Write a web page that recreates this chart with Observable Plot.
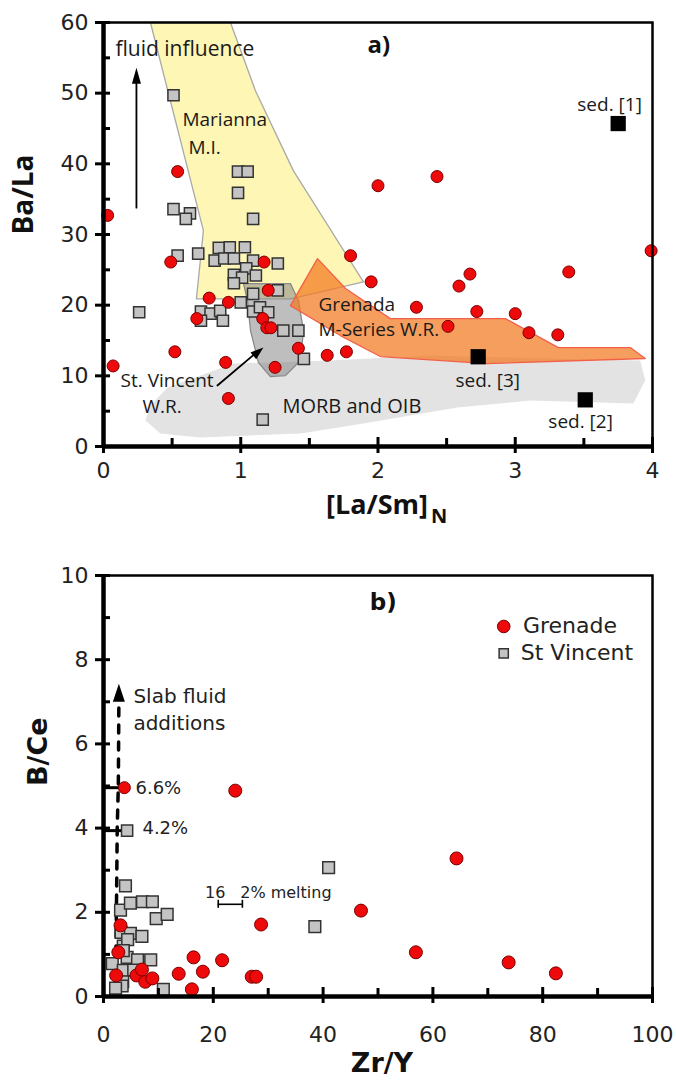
<!DOCTYPE html>
<html><head><meta charset="utf-8">
<script src="https://cdn.jsdelivr.net/npm/d3@7"></script>
<script src="https://cdn.jsdelivr.net/npm/@observablehq/plot@0.6"></script>
<style>body{margin:0;background:#fff} #chart{width:676px} #chart svg{display:block}</style>
</head><body><div id="chart"></div>
<script>
// ---------- Panel a) data : [La/Sm]N vs Ba/La ----------
const grenadaA = [
  [0.03,32.7],[0.54,38.9],[0.49,26.1],[1.17,26.1],[1.20,22.1],[0.77,21.0],[0.91,20.4],
  [0.68,18.1],[1.16,18.1],[1.19,16.8],[1.22,16.8],[1.42,13.9],[1.63,12.9],[0.07,11.4],
  [0.52,13.4],[0.89,11.9],[1.25,11.2],[0.91,6.8],[1.80,27.0],[1.95,23.3],[2.28,19.7],
  [2.51,17.0],[2.59,22.7],[2.67,24.4],[2.72,19.1],[3.00,18.8],[3.10,16.1],[3.31,15.8],
  [3.39,24.7],[3.99,27.7],[1.77,13.4],[2.00,36.9],[2.43,38.2]
];
const stVincentA = [
  [0.51,49.7],[0.98,38.9],[1.05,38.9],[0.98,35.9],[0.51,33.6],[0.63,33.0],[0.60,32.2],
  [1.09,32.2],[0.54,27.0],[0.69,27.3],[0.84,28.1],[0.92,28.2],[1.03,28.2],[0.81,26.3],
  [0.88,26.6],[0.95,26.6],[1.09,26.3],[1.27,25.9],[1.04,25.2],[0.95,24.3],[1.01,23.9],
  [1.11,24.2],[0.95,23.1],[1.27,22.1],[1.09,21.6],[1.00,20.4],[0.71,19.1],[0.78,18.8],
  [0.85,19.2],[0.71,17.8],[0.87,17.8],[0.26,19.0],[1.09,19.1],[1.14,19.7],[1.20,19.0],
  [1.31,16.4],[1.42,16.4],[1.46,12.4],[1.16,3.8]
];
const sedimentsA = [[3.75,45.7],[3.51,6.6],[2.73,12.7]];
const sedimentLabels = ["sed. [1]","sed. [2]","sed. [3]"];

// fields (polygons)
const morbField = [[0.306,3.68],[0.342,5.8],[0.466,8.35],[0.947,11.74],[1.653,12.16],[2.382,12.87],
  [3.911,12.16],[3.947,9.34],[3.86,6.08],[3.11,6.51],[2.578,5.52],[1.894,3.25],[1.435,1.84],
  [0.706,1.27],[0.415,1.84]];
const mariannaField = [[0.342,60],[0.925,60],[1.107,50.35],[1.384,39.0],[1.894,23.3],[1.362,20.9],
  [0.677,20.9],[0.728,30.55]];
const stVincentField = [[1.02,23.05],[1.362,23.05],[1.42,20.65],[1.457,16.41],[1.435,12.16],[1.326,10.04],
  [1.216,9.9],[1.129,11.88],[1.071,16.41],[1.049,20.65]];
const grenadaField = [[1.559,26.59],[1.763,22.35],[2.09,18.1],[2.928,18.1],[3.314,14.0],[3.838,14.0],
  [3.947,12.45],[2.797,11.74],[2.017,12.73],[1.726,15.7],[1.362,19.94]];

const xMajorA = [0,1,2,3,4], xMinorA = [0.5,1.5,2.5,3.5];
const yMajorA = [0,10,20,30,40,50,60], yMinorA = [5,15,25,35,45,55];

// ---------- Panel b) data : Zr/Y vs B/Ce ----------
const grenadaB = [
  [24.0,4.89],[28.7,1.71],[3.1,1.69],[2.7,1.05],[16.4,0.93],[21.6,0.86],[18.1,0.59],[13.7,0.54],
  [16.1,0.17],[27.0,0.47],[27.8,0.47],[2.3,0.50],[6.0,0.50],[7.6,0.35],[8.9,0.43],[7.0,0.64],
  [64.3,3.28],[46.9,2.04],[56.9,1.05],[73.8,0.81],[82.4,0.55]
];
const stVincentB = [
  [41.0,3.06],[4.0,2.63],[3.1,2.05],[4.9,2.22],[7.1,2.25],[8.9,2.25],[9.6,1.85],[11.6,1.95],
  [38.5,1.66],[3.2,1.52],[4.9,1.50],[7.0,1.43],[3.6,1.2],[4.4,1.35],[4.3,0.93],[6.2,0.87],
  [8.6,0.87],[1.6,0.78],[3.6,0.62],[5.5,0.63],[3.5,0.35],[3.4,0.25],[10.9,0.17],[2.2,0.2],[3.6,1.09]
];
const modelGrenadeB = [[3.8,4.96]], modelGrenadeLabel = ["6.6%"];
const modelStVincentB = [[4.3,3.94]], modelStVincentLabel = ["4.2%"];
const slabCurve = [[2.2,0.2],[2.4,2.6],[2.5,4.0],[2.7,5.0],[2.8,7.0]];
const meltBar = [20.9,25.3];
const legendItems = ["Grenade","St Vincent"];

const xMajorB = [0,20,40,60,80,100], xMinorB = [10,30,50,70,90];
const yMajorB = [0,2,4,6,8,10], yMinorB = [1,3,5,7,9];

// ---------- styles ----------
const FA = "'Open Sans', sans-serif";
const FB = "'DejaVu Sans', sans-serif";
const RED = "#ee0a0a", REDS = "#7a0000", GRAY = "#c4c4c4", GRAYS = "#333";
const X = d => d[0], Y = d => d[1], zero = () => 0;

function arrowHead(angleDeg, len, half) {
  const a = angleDeg * Math.PI / 180, c = Math.cos(a), s = Math.sin(a);
  const rot = (x, y) => [x * c - y * s, x * s + y * c];
  return {draw(ctx) {
    const p1 = rot(0, 0), p2 = rot(-half, len), p3 = rot(half, len);
    ctx.moveTo(p1[0], p1[1]); ctx.lineTo(p2[0], p2[1]); ctx.lineTo(p3[0], p3[1]); ctx.closePath();
  }};
}

function axisMarks(xMaj, xMin, yMaj, yMin, xLabelDy) {
  return [
    Plot.frame({stroke: "black", strokeWidth: 2.5}),
    Plot.ruleX([xMaj[0]], {strokeWidth: 4.5}),
    Plot.ruleY([yMaj[0]], {strokeWidth: 4.5}),
    Plot.ruleX(xMaj, {x: d => d, y1: zero, y2: zero, insetTop: -9, insetBottom: -7, strokeWidth: 3}),
    Plot.ruleX(xMin, {x: d => d, y1: zero, y2: zero, insetTop: -8, insetBottom: 0, strokeWidth: 3}),
    Plot.ruleY(yMaj, {y: d => d, x1: zero, x2: zero, insetLeft: -8, insetRight: -7, strokeWidth: 3}),
    Plot.ruleY(yMin, {y: d => d, x1: zero, x2: zero, insetLeft: 0, insetRight: -7, strokeWidth: 3}),
    Plot.text(xMaj, {x: d => d, y: zero, text: d => String(d), dy: xLabelDy, lineAnchor: "bottom",
      fontSize: 22, fontFamily: FB, fill: "#222"}),
    Plot.text(yMaj, {y: d => d, x: zero, text: d => String(d), dx: -15, textAnchor: "end",
      lineAnchor: "middle", fontSize: 22, fontFamily: FB, fill: "#222"})
  ];
}

function label(text, x, y, o = {}) {
  return Plot.text([text], {x: () => x, y: () => y, text: d => d, textAnchor: "start",
    lineAnchor: "bottom", fill: "#1a1a1a", fontFamily: FA, fontSize: 19, ...o});
}
const circleStyle = {symbol: "circle", fill: RED, stroke: REDS, strokeWidth: 1};
const squareStyle = {symbol: "square", fill: GRAY, stroke: GRAYS, strokeWidth: 1.5};

// ---------- Panel a ----------
const plotA = Plot.plot({
  width: 676, height: 540, marginLeft: 103, marginRight: 24, marginTop: 22, marginBottom: 94,
  x: {domain: [0, 4], axis: null}, y: {domain: [0, 60], axis: null},
  style: {fontFamily: FA, background: "white", overflow: "visible"},
  marks: [
    Plot.line(morbField, {x: X, y: Y, curve: "linear-closed", fill: "#e3e3e3", stroke: "none"}),
    Plot.line(mariannaField, {x: X, y: Y, curve: "linear-closed", fill: "#fdf6b4", stroke: "#a9a9a9", strokeWidth: 1.3}),
    Plot.line(stVincentField, {x: X, y: Y, curve: "linear-closed", fill: "#888", fillOpacity: 0.55, stroke: "#8a8a8a", strokeWidth: 1.3}),
    Plot.line(grenadaField, {x: X, y: Y, curve: "linear-closed", fill: "#f3781e", fillOpacity: 0.72, stroke: "#f3604a", strokeWidth: 1.3}),
    label("fluid influence", 0.087, 55.3, {fontSize: 21}),
    label("Marianna", 0.575, 45.3),
    label("M.I.", 0.619, 41.4),
    label("Grenada", 1.566, 19.2),
    label("M-Series W.R.", 1.566, 15.7),
    label("St. Vincent", 0.124, 8.35),
    label("W.R.", 0.284, 4.67),
    label("MORB and OIB", 1.304, 4.81, {fontSize: 20}),
    label("a)", 1.923, 55.7, {fontSize: 24, fontWeight: "bold", fill: "#111"}),
    // arrows
    Plot.line([[0.24, 33.8], [0.24, 52]], {x: X, y: Y, stroke: "black", strokeWidth: 1.8}),
    Plot.dot([[0.24, 53.6]], {x: X, y: Y, symbol: arrowHead(0, 16, 4.5), r: 5, fill: "black", stroke: "none"}),
    Plot.line([[0.83, 8.63], [1.12, 13.4]], {x: X, y: Y, stroke: "black", strokeWidth: 1.8}),
    Plot.dot([[1.165, 14.0]], {x: X, y: Y, symbol: arrowHead(50.4, 13, 4.5), r: 5, fill: "black", stroke: "none"}),
    // data
    Plot.dot(stVincentA, {x: X, y: Y, r: 6.3, ...squareStyle}),
    Plot.dot(grenadaA, {x: X, y: Y, r: 6, ...circleStyle}),
    Plot.dot(sedimentsA, {x: X, y: Y, symbol: "square", r: 8.6, fill: "black", stroke: "none"}),
    label(sedimentLabels[0], 3.452, 47.5),
    label(sedimentLabels[1], 3.241, 2.55),
    label(sedimentLabels[2], 2.564, 8.35),
    ...axisMarks(xMajorA, xMinorA, yMajorA, yMinorA, 31),
    Plot.text(["Ba/La"], {frameAnchor: "left", dx: -79, rotate: -90, text: d => d, fontSize: 28,
      fontWeight: "bold", fontFamily: FA, fill: "#111", lineAnchor: "middle"}),
    Plot.text(["[La/Sm]"], {frameAnchor: "bottom", dx: 50, dy: 67, textAnchor: "end", lineAnchor: "bottom",
      text: d => d, fontSize: 27, fontWeight: "bold", fontFamily: FA, fill: "#111"}),
    Plot.text(["N"], {frameAnchor: "bottom", dx: 53, dy: 76, textAnchor: "start", lineAnchor: "bottom",
      text: d => d, fontSize: 20, fontWeight: "bold", fontFamily: FA, fill: "#111"})
  ]
});

// ---------- Panel b ----------
const lab = (t, x, y, o = {}) => label(t, x, y, {fontFamily: FB, fill: "#222", ...o});
const plotB = Plot.plot({
  width: 676, height: 540, marginLeft: 103, marginRight: 24, marginTop: 35, marginBottom: 84,
  x: {domain: [0, 100], axis: null}, y: {domain: [0, 10], axis: null},
  style: {fontFamily: FB, background: "white", overflow: "visible"},
  marks: [
    Plot.line(slabCurve, {x: X, y: Y, stroke: "black", strokeWidth: 3.5, strokeDasharray: "8,9"}),
    Plot.dot([[2.8, 7.43]], {x: X, y: Y, symbol: arrowHead(0, 18, 6), r: 5, fill: "black", stroke: "none"}),
    Plot.ruleY(modelGrenadeB, {y: Y, x1: zero, x2: X, strokeWidth: 3}),
    Plot.ruleY(modelStVincentB, {y: Y, x1: zero, x2: X, strokeWidth: 3}),
    Plot.ruleY([2.19], {y: d => d, x1: () => meltBar[0], x2: () => meltBar[1], strokeWidth: 1.6}),
    Plot.ruleX(meltBar, {x: d => d, y1: () => 2.19, y2: () => 2.19, insetTop: -4, insetBottom: -4, strokeWidth: 1.6}),
    lab("Slab fluid", 5.45, 6.96, {fontSize: 20}),
    lab("additions", 5.45, 6.32, {fontSize: 20}),
    lab(modelGrenadeLabel[0], 5.82, 4.82, {fontSize: 18}),
    lab(modelStVincentLabel[0], 7.09, 3.85, {fontSize: 18}),
    lab("16", 18.5, 2.33, {fontSize: 16}),
    lab("2% melting", 24.9, 2.33, {fontSize: 16}),
    lab("b)", 48.5, 9.17, {fontSize: 23, fontWeight: "bold", fill: "#111"}),
    Plot.dot(stVincentB, {x: X, y: Y, r: 6.6, ...squareStyle}),
    Plot.dot(grenadaB, {x: X, y: Y, r: 6.5, ...circleStyle}),
    Plot.dot(modelStVincentB, {x: X, y: Y, r: 6.3, ...squareStyle}),
    Plot.dot(modelGrenadeB, {x: X, y: Y, r: 6, ...circleStyle}),
    // legend
    Plot.dot([legendItems[0]], {x: () => 72.9, y: () => 8.79, r: 6.3, ...circleStyle}),
    Plot.dot([legendItems[1]], {x: () => 72.9, y: () => 8.15, r: 5.2, ...squareStyle}),
    Plot.text(legendItems, {x: (d, i) => [76.4, 76.0][i], y: (d, i) => [8.79, 8.15][i], text: d => d,
      textAnchor: "start", lineAnchor: "middle", fontSize: 22, fontFamily: FB, fill: "#222"}),
    ...axisMarks(xMajorB, xMinorB, yMajorB, yMinorB, 45),
    Plot.text(["B/Ce"], {frameAnchor: "left", dx: -65, rotate: -90, text: d => d, fontSize: 27,
      fontWeight: "bold", fontFamily: FB, fill: "#111", lineAnchor: "middle"}),
    Plot.text(["Zr/Y"], {frameAnchor: "bottom", dx: 4, dy: 75, lineAnchor: "bottom",
      text: d => d, fontSize: 27, fontWeight: "bold", fontFamily: FB, fill: "#111"})
  ]
});

const chart = document.getElementById("chart");
chart.appendChild(plotA);
chart.appendChild(plotB);
</script>
</body></html>
